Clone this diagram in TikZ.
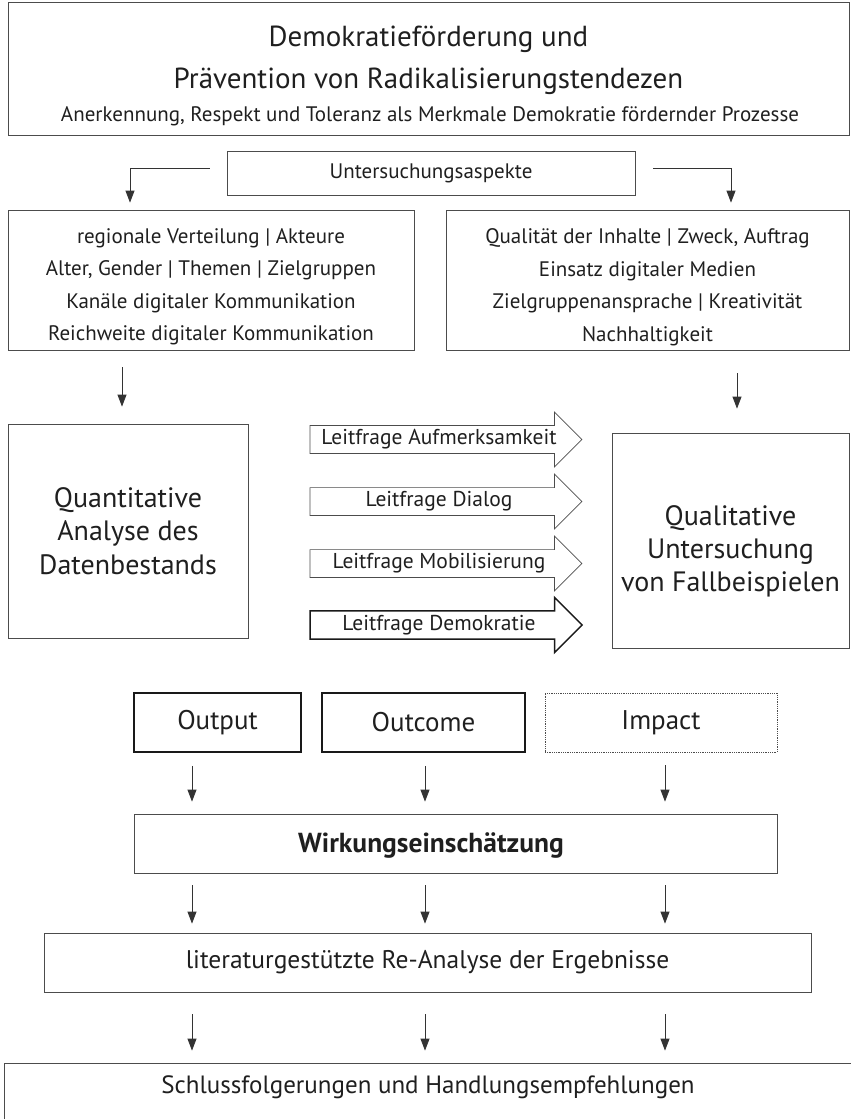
\documentclass[tikz,border=0pt]{standalone}
\usepackage{fontspec}
\setmainfont{PT Sans}
\usetikzlibrary{arrows.meta, shapes.arrows}

\tikzset{
  box/.style={draw=black!70, line width=0.8pt, align=center, inner sep=0pt, text=black!88},
  strongbox/.style={draw=black!90, line width=1.6pt, align=center, inner sep=0pt, text=black!88},
  boxtext/.style={align=center, text=black!88, inner sep=0pt},
  arr/.style={-{Triangle[length=12pt, width=9pt]}, line width=0.8pt, black!80},
  frage/.style={single arrow, draw=black!70, line width=0.7pt, single arrow head extend=11pt,
    single arrow head indent=0pt, minimum height=272pt, minimum width=55pt, inner sep=1pt,
    text=black!88, font=\fontsize{21.5}{24}\selectfont}
}

\begin{document}
\begin{tikzpicture}[x=1pt, y=-1pt]
    \useasboundingbox (0,0) rectangle (851,1119);

    % Columns of the vertical arrows
    \coordinate (sp1) at (122,0);
    \coordinate (sp2) at (737,0);
    \coordinate (c1) at (192,0);
    \coordinate (c2) at (425,0);
    \coordinate (c3) at (665,0);

    % Header
    \node[box, minimum width=841pt, minimum height=133pt] (ziel) at (428.5,68.5) {};
    \node[boxtext, font=\fontsize{29}{42}\selectfont] (titel) at (428.5,60)
        {Demokratieförderung und\\Prävention von Radikalisierungstendezen};
    \node[boxtext, font=\fontsize{21}{24}\selectfont] (untertitel) at (430,116)
        {Anerkennung, Respekt und Toleranz als Merkmale Demokratie fördernder Prozesse};

    % Aspects
    \node[box, minimum width=408pt, minimum height=44pt, font=\fontsize{21}{24}\selectfont]
        (aspekte) at (431,173) {Untersuchungsaspekte};
    \node[box, minimum width=406pt, minimum height=140pt] (links) at (211,280) {};
    \node[boxtext, font=\fontsize{21}{32.5}\selectfont] (linkstext) at (211,287)
        {regionale Verteilung | Akteure\\Alter, Gender | Themen | Zielgruppen\\Kanäle digitaler Kommunikation\\Reichweite digitaler Kommunikation};
    \node[box, minimum width=403pt, minimum height=140pt] (rechts) at (647.5,280) {};
    \node[boxtext, font=\fontsize{21}{32.5}\selectfont] (rechtstext) at (647.5,287)
        {Qualität der Inhalte | Zweck, Auftrag\\Einsatz digitaler Medien\\Zielgruppenansprache | Kreativität\\Nachhaltigkeit};

    \draw[arr, shorten <=17pt, shorten >=7pt] ([yshift=5pt]aspekte.west) -| (links.north -| 130,0);
    \draw[arr, shorten <=18pt, shorten >=7pt] ([yshift=5pt]aspekte.east) -| (rechts.north -| 731,0);

    % Analysis
    \node[box, minimum width=240pt, minimum height=214pt, font=\fontsize{28}{33.5}\selectfont]
        (quant) at (128,531) {Quantitative\\Analyse des\\Datenbestands};
    \node[box, minimum width=237pt, minimum height=215pt] (qual) at (730.5,540.5) {};
    \node[boxtext, font=\fontsize{28}{33}\selectfont] (qualtext) at (730.5,551)
        {Qualitative\\Untersuchung\\von Fallbeispielen};

    \draw[arr, shorten <=17pt, shorten >=17pt] (links.south -| sp1) -- (quant.north -| sp1);
    \draw[arr, shorten <=23pt, shorten >=24pt] (rechts.south -| sp2) -- (qual.north -| sp2);

    % Guiding questions
    \node[frage] (aufmerksamkeit) at (439,439.5) {Leitfrage Aufmerksamkeit};
    \node[frage] (dialog) at (439,501.5) {Leitfrage Dialog};
    \node[frage] (mobilisierung) at (439,563.5) {Leitfrage Mobilisierung};
    \node[frage, draw=black!90, line width=1.5pt] (demokratie) at (439,625) {Leitfrage Demokratie};

    % Effects
    \node[strongbox, minimum width=167pt, minimum height=59pt, font=\fontsize{27}{30}\selectfont]
        (output) at (217.5,722.5) {Output};
    \node[strongbox, minimum width=203pt, minimum height=59pt, font=\fontsize{27}{30}\selectfont]
        (outcome) at (423.5,722.5) {Outcome};
    \node[box, densely dotted, minimum width=232pt, minimum height=59pt, font=\fontsize{27}{30}\selectfont]
        (impact) at (661,722.5) {Impact};

    \node[box, minimum width=643pt, minimum height=59pt] (wirkung) at (455.5,843.5) {};
    \node[boxtext, font=\fontsize{27.5}{30}\selectfont\bfseries] (wirkungtext) at (431,845)
        {Wirkungseinschätzung};
    \node[box, minimum width=767pt, minimum height=59pt, font=\fontsize{25.5}{30}\selectfont]
        (reanalyse) at (427.5,962.5) {literaturgestützte Re-Analyse der Ergebnisse};
    \node[box, minimum width=856pt, minimum height=67pt] (schluss) at (432,1096.5) {};
    \node[boxtext, font=\fontsize{25}{30}\selectfont] (schlusstext) at (428,1087)
        {Schlussfolgerungen und Handlungsempfehlungen};

    \foreach \b/\c in {output/c1, outcome/c2, impact/c3}
        \draw[arr, shorten <=13pt, shorten >=12pt] (\b.south -| \c) -- (wirkung.north -| \c);
    \foreach \c in {c1, c2, c3} {
        \draw[arr, shorten <=12pt, shorten >=9pt] (wirkung.south -| \c) -- (reanalyse.north -| \c);
        \draw[arr, shorten <=22pt, shorten >=12pt] (reanalyse.south -| \c) -- (schluss.north -| \c);
    }
\end{tikzpicture}
\end{document}
